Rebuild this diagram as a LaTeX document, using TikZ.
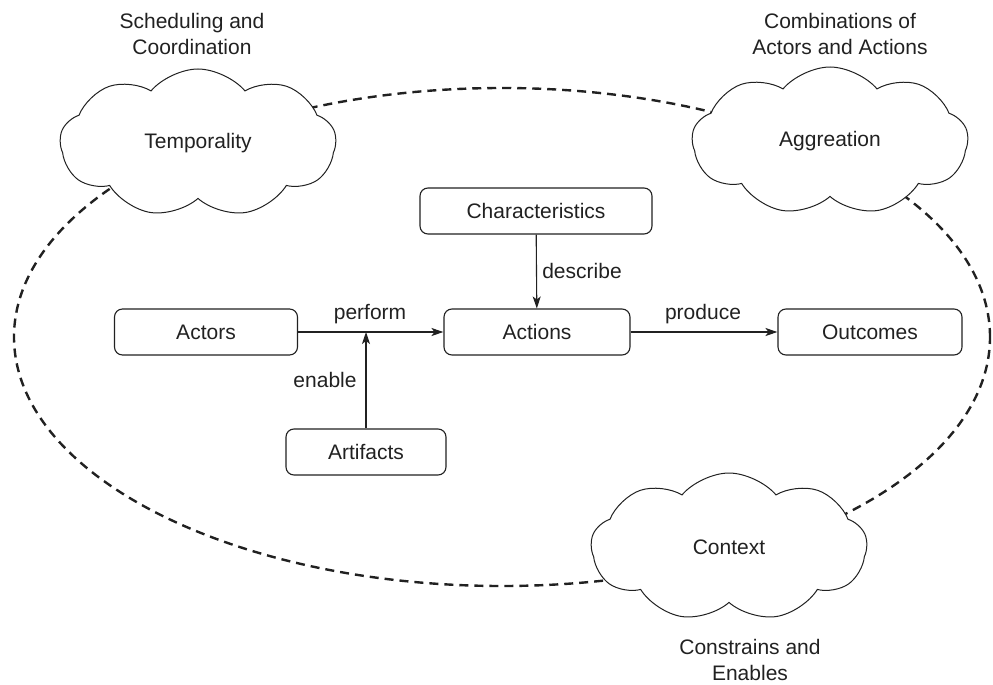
\documentclass[tikz,border=0pt]{standalone}
\usepackage{fontspec}
\setmainfont{Liberation Sans}
\usetikzlibrary{arrows.meta}
\usetikzlibrary{shapes.symbols}
\definecolor{encre}{rgb}{0.13,0.13,0.13}

\begin{document}
\begin{tikzpicture}[x=1pt, y=-1pt, font=\fontsize{21pt}{26pt}\selectfont]
	% STYLES
	\tikzstyle{entity} = [draw=encre, line width=1.1pt, rounded corners=8pt, minimum height=46pt, inner sep=0pt, text=encre]
	\tikzstyle{bubble} = [cloud, draw=encre, fill=white, line width=1pt, cloud puffs=9, cloud puff arc=100, cloud ignores aspect, inner sep=0pt, minimum width=276pt, minimum height=148pt, text=encre]
	\tikzstyle{link} = [line width=1.1pt, draw=encre, -{Stealth[length=12pt, width=8pt, inset=3pt]}]
	\tikzstyle{verb} = [draw=none, text=encre]
	\tikzstyle{border} = [line width=2.4pt, draw=encre, dash pattern=on 9pt off 6pt]
	\tikzstyle{caption} = [align=center, text=encre]

	\useasboundingbox (0, 0) rectangle (993, 685);

	% BORDER
	\draw[border] (502, 337) ellipse [x radius=488pt, y radius=249pt];

	% CLOUDS
	\node[bubble] (temporality) at (198, 143) {Temporality};
	\node[bubble] (aggreation) at (830, 141) {Aggreation};
	\node[bubble] (context) at (729, 547) {Context};

	\node[caption] (scheduling) at (192, 34) {Scheduling and\\Coordination};
	\node[caption] (combinations) at (840, 34) {Combinations of\\Actors and Actions};
	\node[caption] (constrains) at (750, 660) {Constrains and\\Enables};

	% BOXES
	\node[entity, minimum width=232pt] (characteristics) at (536, 211) {Characteristics};
	\node[entity, minimum width=183pt] (actors) at (206, 332) {Actors};
	\node[entity, minimum width=186pt] (actions) at (537, 332) {Actions};
	\node[entity, minimum width=184pt] (outcomes) at (870, 332) {Outcomes};
	\node[entity, minimum width=160pt] (artifacts) at (366, 452) {Artifacts};

	% ARROWS
	\coordinate (join) at (artifacts.north |- actors.east);
	\draw[link] (actors) -- (actions);
	\draw[link] (artifacts) -- (join);
	\draw[link] (characteristics) -- (actions);
	\draw[link] (actions) -- (outcomes);

	\node[verb] (perform) at (370, 314) {perform};
	\node[verb] (enable) at (325, 380) {enable};
	\node[verb] (describe) at (582, 271) {describe};
	\node[verb] (produce) at (703, 314) {produce};
\end{tikzpicture}
\end{document}
